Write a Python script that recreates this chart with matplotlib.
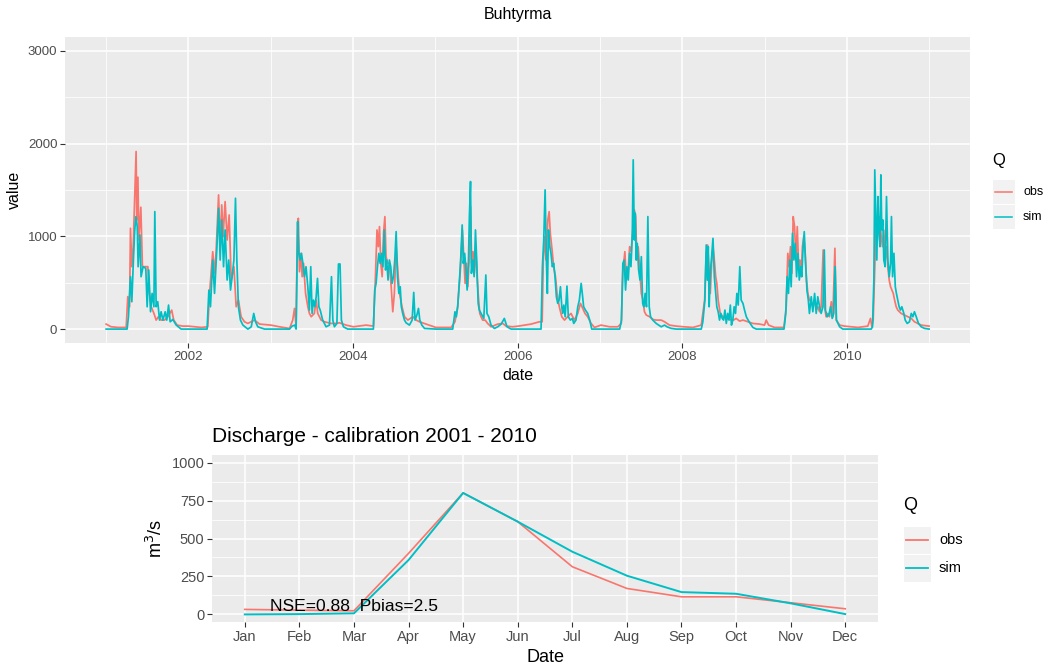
import numpy as np
import pandas as pd
import matplotlib
matplotlib.use('Agg')
import matplotlib.pyplot as plt
import matplotlib.dates as mdates
from matplotlib.patches import Rectangle
from matplotlib.lines import Line2D

plt.rcParams['font.family'] = ['Liberation Sans', 'DejaVu Sans']

W, H = 1051, 666
OBS = '#F8766D'
SIM = '#00BFC4'
PANEL = '#EBEBEB'

# daily discharge (days since 2001-01-01, m3/s)
obs_day = [0, 22, 52, 89, 96, 104, 108, 114, 120, 133, 136, 141, 145, 154, 161, 170, 185, 192, 200, 212,
           222, 232, 244, 259, 274, 291, 300, 315, 340,  # 2001
           365, 422, 451, 459, 473, 481, 488, 499, 506, 513, 519, 528, 537, 546, 555, 567, 577, 587, 599,
           614, 629, 658, 681,  # 2002
           731, 769, 814, 828, 836, 843, 849, 853, 858, 864, 870, 876, 885, 895, 902, 910, 924, 932, 939,
           954, 969, 998, 1021, 1035, 1065,  # 2003
           1097, 1154, 1186, 1194, 1202, 1208, 1213, 1219, 1225, 1231, 1237, 1242, 1250, 1257, 1265, 1272,
           1279, 1287, 1294, 1302, 1313, 1324, 1339, 1361, 1376, 1390, 1420,  # 2004
           1463, 1531, 1548, 1560, 1572, 1581, 1587, 1593, 1599, 1605, 1611, 1617, 1622, 1628, 1634, 1640,
           1646, 1652, 1658, 1664, 1671, 1682, 1693, 1708, 1738, 1760, 1775, 1804,  # 2005
           1829, 1886, 1923, 1935, 1940, 1946, 1952, 1960, 1966, 1971, 1979, 1986, 1994, 2001, 2011, 2022,
           2034, 2048, 2063, 2078, 2093, 2105, 2115, 2125, 2137, 2152, 2167,  # 2006
           2196, 2234, 2271, 2286, 2293, 2302, 2308, 2315, 2323, 2330, 2338, 2344, 2350, 2355, 2361, 2367,
           2375, 2382, 2389, 2397, 2412, 2426, 2441, 2463, 2478, 2500, 2530,  # 2007
           2562, 2604, 2641, 2656, 2663, 2669, 2675, 2681, 2687, 2693, 2699, 2705, 2710, 2716, 2725, 2737,
           2752, 2767, 2784, 2796, 2811, 2826, 2848, 2870, 2900,  # 2008
           2922, 2929, 2940, 2966, 3008, 3018, 3025, 3031, 3037, 3043, 3049, 3055, 3061, 3067, 3073, 3079,
           3084, 3090, 3096, 3102, 3108, 3114, 3121, 3129, 3136, 3144, 3151, 3158, 3166, 3173, 3182, 3188,
           3195, 3203, 3210, 3218, 3225, 3234, 3240, 3255, 3277, 3306, 3336, 3380, 3392, 3398,  # 2009
           3404, 3410, 3416, 3422, 3428, 3434, 3439, 3445, 3451, 3457, 3463, 3469, 3475, 3481, 3487, 3493,
           3499, 3506, 3513, 3528, 3543, 3558, 3573, 3587, 3602, 3617, 3639, 3652]  # 2010
obs_val = [54, 25, 18, 18, 350, 240, 1087, 673, 890, 1915, 1177, 1638, 961, 1314, 673, 673, 673, 385, 241, 169,
           97, 133, 97, 97, 133, 205, 97, 43, 32,
           32, 18, 25, 385, 835, 601, 835, 1447, 889, 1339, 997, 1375, 961, 1231, 529, 673, 241, 313, 133,
           79, 61, 97, 54,
           43, 25, 7, 97, 223, 25, 1141, 1195, 619, 817, 565, 709, 385, 241, 169, 133, 169, 313, 169,
           97, 79, 61, 61, 68, 43,
           25, 43, 32, 493, 1069, 889, 1105, 709, 565, 1033, 1213, 781, 709, 709, 457, 187,
           385, 889, 637, 385, 241, 133, 97, 133, 97, 79, 54,
           18, 18, 79, 241, 637, 1069, 781, 493, 709, 457, 745, 1321, 709, 835, 601, 889,
           565, 349, 169, 133, 97, 97, 61, 25, 54, 61, 32, 25,
           32, 54, 79, 79, 745, 997, 745, 1177, 1267, 1033, 853, 673, 565, 385, 241, 133,
           97, 133, 169, 97, 169, 277, 223, 169, 133, 61, 18,
           43, 25, 25, 61, 619, 835, 529, 565, 889, 835, 1105, 1285, 1213, 745, 889, 673,
           385, 313, 187, 151, 133, 104, 97, 97, 79, 43, 32,
           25, 18, 43, 313, 817, 907, 673, 385, 709, 889, 745, 565, 493, 313, 169, 133,
           115, 104, 97, 115, 86, 97, 79, 61, 54,
           43, 97, 43, 18, 18, 241, 817, 673, 889, 601, 1213, 1105, 745, 1105, 673, 745,
           565, 889, 997, 817, 529, 385, 313, 295, 241, 313, 205, 241, 187, 241, 853, 241,
           133, 169, 133, 295, 133, 871, 97, 43, 32, 25, 18, 32, 115, 25,
           97, 565, 1069, 961, 1177, 1213, 1015, 889, 1069, 745, 889, 673, 529, 457, 421, 385,
           313, 241, 205, 169, 151, 133, 115, 79, 61, 43, 36, 32]

sim_day = [0, 93, 99, 108, 114, 121, 127, 132, 138, 142, 150, 155, 164, 176, 182, 189, 197, 204, 212, 216,
           222, 229, 237, 244, 252, 262, 269, 277, 284, 296, 311, 333,  # 2001
           365, 448, 456, 463, 473, 481, 491, 499, 506, 513, 521, 528, 537, 544, 552, 559, 567, 574, 580,
           587, 596, 607, 629, 644, 655, 663, 673, 703,  # 2002
           731, 814, 825, 837, 843, 850, 855, 861, 867, 873, 880, 887, 895, 902, 908, 914, 920, 926, 932,
           938, 944, 950, 961, 976, 991, 1000, 1006, 1013, 1024, 1031, 1038, 1044, 1053, 1072,  # 2003
           1097, 1186, 1192, 1198, 1204, 1210, 1216, 1222, 1228, 1234, 1240, 1245, 1251, 1257, 1263, 1269,
           1275, 1281, 1287, 1293, 1299, 1305, 1310, 1316, 1324, 1331, 1346, 1358, 1365, 1371, 1379, 1386,
           1392, 1401, 1413,  # 2004
           1463, 1538, 1548, 1554, 1560, 1568, 1574, 1580, 1585, 1591, 1597, 1602, 1608, 1612, 1617, 1621,
           1627, 1633, 1639, 1645, 1651, 1656, 1664, 1676, 1685, 1690, 1698, 1708, 1723, 1738, 1753, 1767,
           1779, 1797,  # 2005
           1829, 1930, 1936, 1942, 1948, 1954, 1958, 1963, 1969, 1974, 1980, 1986, 1992, 1998, 2004, 2010,
           2016, 2022, 2026, 2031, 2037, 2045, 2051, 2060, 2069, 2075, 2085, 2093, 2100, 2108, 2113, 2119,
           2127, 2137, 2146, 2155,  # 2006
           2196, 2279, 2287, 2293, 2299, 2305, 2311, 2317, 2323, 2329, 2335, 2339, 2344, 2348, 2352, 2357,
           2363, 2369, 2375, 2381, 2386, 2392, 2398, 2404, 2410, 2416, 2426, 2441, 2463, 2478, 2489, 2508,
           2530,  # 2007
           2562, 2641, 2648, 2657, 2663, 2668, 2672, 2676, 2681, 2687, 2693, 2699, 2705, 2710, 2716, 2722,
           2728, 2734, 2740, 2746, 2752, 2758, 2764, 2770, 2775, 2781, 2787, 2793, 2799, 2805, 2812, 2818,
           2826, 2833, 2841, 2849, 2858, 2870, 2885,  # 2008
           2922, 3008, 3016, 3022, 3028, 3034, 3040, 3046, 3052, 3058, 3064, 3070, 3076, 3082, 3087, 3093,
           3098, 3104, 3110, 3116, 3121, 3129, 3136, 3144, 3151, 3158, 3166, 3173, 3181, 3187, 3192, 3200,
           3207, 3215, 3222, 3229, 3235, 3241, 3255, 3269, 3395,  # 2009
           3401, 3407, 3411, 3416, 3420, 3425, 3429, 3434, 3438, 3442, 3447, 3451, 3457, 3463, 3469, 3475,
           3481, 3485, 3490, 3496, 3502, 3507, 3513, 3519, 3525, 3531, 3540, 3546, 3555, 3565, 3573, 3580,
           3587, 3595, 3605, 3617, 3632, 3652]  # 2010
sim_val = [0, 0, 133, 565, 295, 745, 1069, 1213, 1105, 673, 1015, 565, 673, 655, 241, 637, 187, 385, 241, 1267,
           241, 295, 97, 187, 97, 187, 97, 259, 79, 104, 43, 0,
           0, 0, 421, 241, 745, 385, 853, 1303, 745, 1177, 673, 1069, 529, 745, 421, 565, 745, 1411, 745,
           241, 97, 43, 0, 25, 169, 79, 25, 0,
           0, 0, 32, 43, 0, 1159, 817, 745, 817, 709, 565, 673, 457, 205, 673, 169, 313, 241, 349,
           547, 241, 205, 97, 25, 43, 565, 97, 25, 61, 702, 702, 97, 25, 0,
           0, 0, 421, 493, 673, 817, 709, 817, 673, 1069, 637, 745, 529, 745, 673, 493,
           565, 745, 1051, 565, 385, 457, 241, 169, 97, 68, 43, 97, 396, 97, 151, 223,
           97, 43, 7,
           0, 0, 187, 133, 241, 529, 781, 1123, 709, 817, 637, 421, 745, 1213, 1591, 601,
           745, 565, 1069, 709, 277, 205, 169, 115, 583, 169, 133, 43, 7, 25, 54, 115,
           25, 0,
           0, 0, 673, 961, 1501, 709, 385, 1069, 889, 817, 673, 709, 565, 349, 277, 313,
           457, 241, 169, 259, 133, 464, 133, 97, 115, 61, 97, 241, 313, 493, 385, 241,
           205, 169, 97, 0,
           0, 0, 97, 709, 745, 421, 673, 529, 817, 673, 1033, 1825, 961, 1249, 745, 925,
           637, 529, 781, 277, 241, 385, 241, 1213, 241, 133, 97, 61, 25, 43, 25, 7,
           0,
           0, 0, 79, 313, 907, 529, 889, 241, 601, 781, 979, 565, 385, 241, 187, 97,
           169, 115, 97, 205, 61, 169, 97, 259, 43, 97, 241, 169, 385, 259, 673, 313,
           277, 205, 133, 97, 61, 18, 0,
           0, 0, 169, 565, 385, 745, 457, 1033, 745, 925, 565, 817, 529, 673, 565, 889,
           1051, 709, 421, 313, 169, 349, 187, 385, 169, 349, 241, 169, 241, 853, 205, 133,
           151, 241, 115, 169, 673, 97, 25, 0, 0,
           25, 529, 1717, 1177, 745, 1429, 1069, 889, 1663, 1069, 1177, 745, 673, 1429, 745, 565,
           709, 1213, 565, 817, 457, 385, 313, 241, 205, 241, 169, 97, 61, 79, 169, 133,
           187, 133, 61, 25, 7, 0]

# monthly means 2001-2010
months = ['Jan', 'Feb', 'Mar', 'Apr', 'May', 'Jun', 'Jul', 'Aug', 'Sep', 'Oct', 'Nov', 'Dec']
obs_month = [33, 28, 24, 402, 800, 611, 314, 171, 116, 116, 77, 37]
sim_month = [0, 2, 7, 358, 800, 611, 413, 255, 147, 136, 73, 2]


def px(x, y):
    return x / W, 1 - y / H


def gg_style(ax, tick_size):
    ax.set_facecolor(PANEL)
    for s in ax.spines.values():
        s.set_visible(False)
    ax.grid(which='major', color='white', linewidth=1.1)
    ax.grid(which='minor', color='white', linewidth=0.55)
    ax.set_axisbelow(True)
    ax.tick_params(which='major', length=3.5, width=0.8, color='#333333',
                   labelcolor='#4D4D4D', labelsize=tick_size, pad=2)
    ax.tick_params(which='minor', length=0)


def legend(x, y, key_w, key_h, title_size, text_size, lw):
    fig.text(*px(x, y), 'Q', fontsize=title_size, ha='left', va='center')
    for i, (lab, col) in enumerate([('obs', OBS), ('sim', SIM)]):
        top = y + 16 * title_size / 10 + i * key_h
        fig.add_artist(Rectangle(px(x, top + key_h), key_w / W, key_h / H,
                                 transform=fig.transFigure, facecolor='#F2F2F2', edgecolor='white', lw=0.8))
        yc = top + key_h / 2
        fig.add_artist(Line2D([px(x + 3, yc)[0], px(x + key_w - 3, yc)[0]], [px(0, yc)[1]] * 2,
                              transform=fig.transFigure, color=col, lw=lw))
        fig.text(*px(x + key_w + 8, yc), lab, fontsize=text_size, ha='left', va='center', color='black')


fig = plt.figure(figsize=(W / 100, H / 100), dpi=100)

# ---- top: daily series ----
ax1 = fig.add_axes([65 / W, 1 - 343 / H, 905 / W, 306 / H])
gg_style(ax1, 9.5)
start = pd.Timestamp('2001-01-01')
obs_t = start + pd.to_timedelta(obs_day, unit='D')
sim_t = start + pd.to_timedelta(sim_day, unit='D')
ax1.plot(obs_t, obs_val, color=OBS, lw=1.25)
ax1.plot(sim_t, sim_val, color=SIM, lw=1.25)
t0, t1 = pd.Timestamp('2001-01-01'), pd.Timestamp('2010-12-31')
pad = (t1 - t0) * 0.05
ax1.set_xlim(t0 - pad, t1 + pad)
ax1.set_ylim(-150, 3150)
ax1.set_yticks([0, 1000, 2000, 3000])
ax1.set_yticks([500, 1500, 2500], minor=True)
ax1.xaxis.set_major_locator(mdates.YearLocator(2))
ax1.xaxis.set_minor_locator(mdates.YearLocator(1))
ax1.xaxis.set_major_formatter(mdates.DateFormatter('%Y'))
ax1.set_xlabel('date', fontsize=11.5, labelpad=4)
ax1.set_ylabel('value', fontsize=11.5, labelpad=4)
fig.text(*px(518, 15), 'Buhtyrma', fontsize=11.5, ha='center', va='center')
legend(992, 160, 23, 25, 12, 9, 1.1)

# ---- bottom: monthly regime ----
ax2 = fig.add_axes([212 / W, 1 - 622 / H, 666 / W, 167 / H])
gg_style(ax2, 10.5)
xi = np.arange(len(months))
ax2.plot(xi, obs_month, color=OBS, lw=1.2)
ax2.plot(xi, sim_month, color=SIM, lw=1.4)
ax2.set_xlim(-0.6, len(months) - 0.4)
ax2.set_xticks(xi)
ax2.set_xticklabels(months)
ax2.set_ylim(-50, 1050)
ax2.set_yticks([0, 250, 500, 750, 1000])
ax2.set_yticks([125, 375, 625, 875], minor=True)
ax2.text(2, 50, 'NSE=0.88  Pbias=2.5', fontsize=12.6, ha='center', va='center')
ax2.set_xlabel('Date', fontsize=13, labelpad=4)
ax2.set_ylabel('m$^3$/s', fontsize=13, labelpad=4)
fig.text(*px(212, 437), 'Discharge - calibration 2001 - 2010', fontsize=15, ha='left', va='center')
legend(903, 505, 28, 28, 13, 10.5, 1.3)

fig.savefig('out.png', dpi=100)
